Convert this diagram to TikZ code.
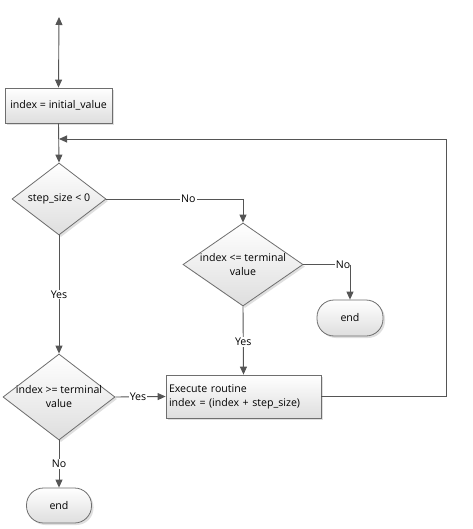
\documentclass[tikz,border=0pt]{standalone}
\usepackage{fontspec}
\setmainfont{Open Sans}
\usetikzlibrary{shapes.geometric,arrows.meta,shadows,positioning}
\definecolor{linec}{HTML}{555555}
\definecolor{borderc}{HTML}{6E6E6E}
\begin{document}
\begin{tikzpicture}[x=1pt,y=-1pt,
  font=\fontsize{10.6}{14}\selectfont,
  shapebase/.style={draw=borderc, line width=0.8pt, top color=white, bottom color=black!13,
     drop shadow={shadow xshift=2pt, shadow yshift=-2pt, fill=black!25, opacity=0.5}},
  procbox/.style={shapebase, rectangle, inner sep=2pt},
  decbox/.style={shapebase, diamond, inner sep=0pt},
  dectext/.style={align=center, inner sep=0pt},
  termbox/.style={shapebase, rectangle, rounded corners=17pt, inner sep=0pt},
  conn/.style={draw=linec, line width=0.9pt},
  arr/.style={conn, -{Triangle[length=8pt,width=7pt]}},
  lbl/.style={fill=white, inner sep=1pt, text=black}
]
\useasboundingbox (0,0) rectangle (472,529);

\coordinate (top) at (59,17);
\node[procbox, minimum width=107pt, minimum height=35pt] (init) at (58.5,105.5) {index = initial\_value};
\node[decbox, minimum width=94pt, minimum height=72pt] (d1) at (59,199) {};
\node[dectext] (d1t) at (d1) {step\_size < 0};
\node[decbox, minimum width=120pt, minimum height=83pt] (d2) at (243,264.5) {};
\node[dectext] (d2t) at (d2) {index <= terminal\\value};
\node[termbox, minimum width=66pt, minimum height=36pt] (end1) at (350,318) {end};
\node[procbox, minimum width=155pt, minimum height=43pt, text width=149pt, align=left] (exec) at (243.5,396.5) {Execute routine\\index = (index + step\_size)};
\node[decbox, minimum width=112pt, minimum height=86pt] (d3) at (59,397) {};
\node[dectext] (d3t) at (d3) {index >= terminal\\value};
\node[termbox, minimum width=65pt, minimum height=35pt] (end2) at (59,505.5) {end};

\coordinate (loopc) at (446,139);
\coordinate (joinp) at (59,139);

\draw[conn, {Triangle[length=8pt,width=7pt]}-{Triangle[length=8pt,width=7pt]}] (top) -- (init.north);
\draw[arr] (init.south) -- (d1.north);
\draw[conn] (d1.east) -- node[lbl, pos=0.6] {No} (d2.north |- d1.east);
\draw[arr] (d2.north |- d1.east) -- (d2.north);
\draw[conn] (d2.east) -- node[lbl, pos=0.85] {No} (end1.north |- d2.east);
\draw[arr] (end1.north |- d2.east) -- (end1.north);
\draw[arr] (d2.south) -- node[lbl, pos=0.52] {Yes} (exec.north);
\draw[arr] (d1.south) -- node[lbl, pos=0.5] {Yes} (d3.north);
\draw[arr] (d3.east) -- node[lbl, pos=0.45] {Yes} (exec.west);
\draw[arr] (d3.south) -- node[lbl, pos=0.5] {No} (end2.north);
\draw[conn] (exec.east) -- (exec.east -| loopc) -- (loopc);
\draw[arr] (loopc) -- (joinp);
\end{tikzpicture}
\end{document}
